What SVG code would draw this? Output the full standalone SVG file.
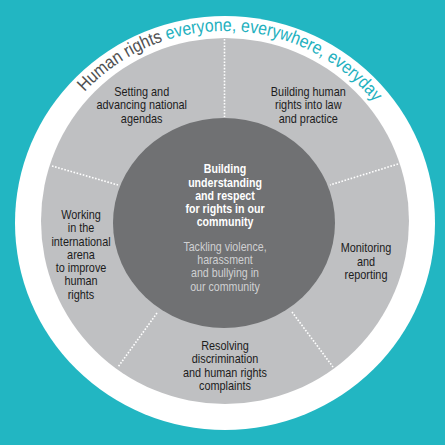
<svg xmlns="http://www.w3.org/2000/svg" width="445" height="445" viewBox="0 0 445 445">
<style>
.lbl{font-family:"Liberation Sans",Arial,sans-serif;font-size:12.5px;fill:#1c1c1c;text-anchor:middle}
.ctr{font-family:"Liberation Sans",Arial,sans-serif;font-size:12.5px;fill:#ffffff;font-weight:bold;text-anchor:middle}
.sub{font-family:"Liberation Sans",Arial,sans-serif;font-size:12.5px;fill:#cfd0d2;text-anchor:middle}
.sep{stroke:#ffffff;stroke-width:1.6;stroke-dasharray:1.6 1.6;fill:none}
.arc{font-family:"Liberation Sans",Arial,sans-serif;font-size:18px}
.grey{fill:#4f5052}
.teal{fill:#22b0be}
</style>
<defs>
<path id="arcPath" d="M 77.9 99.6 A 192 192 0 0 1 382.3 112.8"/>
</defs>
<rect x="0" y="0" width="445" height="445" fill="#22b6c2"/>
<ellipse id="outer" cx="225" cy="223" rx="210" ry="207" fill="#ffffff"/>
<ellipse id="ring" cx="225" cy="221" rx="184" ry="183" fill="#bfc0c2"/>
<g id="separators">
<line class="sep" x1="224.5" y1="39" x2="224.5" y2="117"/>
<line class="sep" x1="52" y1="166" x2="118" y2="185"/>
<line class="sep" x1="398" y1="164" x2="330" y2="185"/>
<line class="sep" x1="157" y1="313" x2="118" y2="367"/>
<line class="sep" x1="292" y1="312" x2="333" y2="367"/>
</g>
<ellipse id="core" cx="224" cy="223" rx="111" ry="105" fill="#707173"/>
<g id="title">
<text class="arc grey"><textPath href="#arcPath" startOffset="10" textLength="51.2" lengthAdjust="spacingAndGlyphs">Human</textPath></text>
<text class="arc grey"><textPath href="#arcPath" startOffset="65.7" textLength="38.8" lengthAdjust="spacingAndGlyphs">rights</textPath></text>
<text class="arc teal"><textPath href="#arcPath" startOffset="108.9" textLength="69.7" lengthAdjust="spacingAndGlyphs">everyone,</textPath></text>
<text class="arc teal"><textPath href="#arcPath" startOffset="183.1" textLength="86.5" lengthAdjust="spacingAndGlyphs">everywhere,</textPath></text>
<text class="arc teal"><textPath href="#arcPath" startOffset="274" textLength="64.5" lengthAdjust="spacingAndGlyphs">everyday</textPath></text>
</g>
<g id="node-national" transform="translate(141.7 0) scale(0.87 1)">
<text class="lbl" x="0" y="96">Setting and</text>
<text class="lbl" x="0" y="109.3">advancing national</text>
<text class="lbl" x="0" y="122.6">agendas</text>
</g>
<g id="node-law" transform="translate(308.3 0) scale(0.87 1)">
<text class="lbl" x="0" y="96">Building human</text>
<text class="lbl" x="0" y="109.3">rights into law</text>
<text class="lbl" x="0" y="122.6">and practice</text>
</g>
<g id="node-international" transform="translate(81 0) scale(0.87 1)">
<text class="lbl" x="0" y="219">Working</text>
<text class="lbl" x="0" y="232.3">in the</text>
<text class="lbl" x="0" y="245.6">international</text>
<text class="lbl" x="0" y="258.9">arena</text>
<text class="lbl" x="0" y="272.2">to improve</text>
<text class="lbl" x="0" y="285.5">human</text>
<text class="lbl" x="0" y="298.8">rights</text>
</g>
<g id="node-monitoring" transform="translate(366 0) scale(0.87 1)">
<text class="lbl" x="0" y="252.3">Monitoring</text>
<text class="lbl" x="0" y="265.6">and</text>
<text class="lbl" x="0" y="278.9">reporting</text>
</g>
<g id="node-complaints" transform="translate(225 0) scale(0.87 1)">
<text class="lbl" x="0" y="350">Resolving</text>
<text class="lbl" x="0" y="363.3">discrimination</text>
<text class="lbl" x="0" y="376.6">and human rights</text>
<text class="lbl" x="0" y="389.9">complaints</text>
</g>
<g id="node-center" transform="translate(225 0) scale(0.85 1)">
<text class="ctr" x="0" y="173.3">Building</text>
<text class="ctr" x="0" y="186.6">understanding</text>
<text class="ctr" x="0" y="199.9">and respect</text>
<text class="ctr" x="0" y="213.2">for rights in our</text>
<text class="ctr" x="0" y="226.5">community</text>
<text class="sub" x="0" y="250.7">Tackling violence,</text>
<text class="sub" x="0" y="264">harassment</text>
<text class="sub" x="0" y="277.3">and bullying in</text>
<text class="sub" x="0" y="290.6">our community</text>
</g>
</svg>
